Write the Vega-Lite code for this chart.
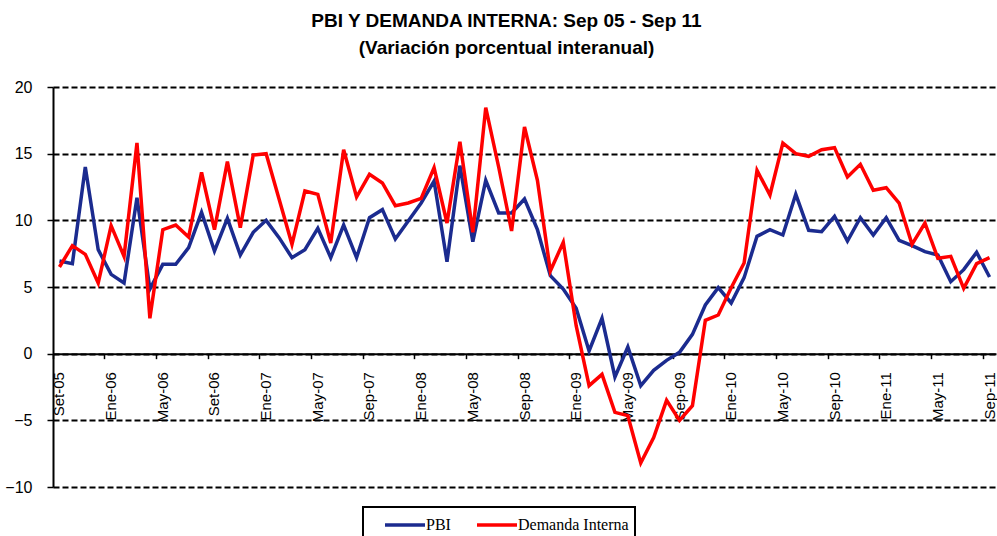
{
  "$schema": "https://vega.github.io/schema/vega-lite/v6.json",
  "width": 943,
  "height": 400,
  "autosize": {"type": "none"},
  "padding": {"left": 53, "top": 87, "right": 1, "bottom": 49},
  "background": "white",
  "title": {
    "text": "PBI Y DEMANDA INTERNA: Sep 05 - Sep 11",
    "subtitle": "(Variación porcentual interanual)",
    "font": "Liberation Sans",
    "fontSize": 19,
    "fontWeight": "bold",
    "color": "black",
    "subtitleFont": "Liberation Sans",
    "subtitleFontSize": 19,
    "subtitleFontWeight": "bold",
    "subtitleColor": "black",
    "subtitlePadding": 8,
    "anchor": "middle",
    "frame": "group",
    "dx": -18,
    "offset": 21
  },
  "data": {
    "values": [
      {"mes": "Set-05", "PBI": 6.95, "Demanda Interna": 6.5},
      {"mes": "Oct-05", "PBI": 6.75, "Demanda Interna": 8.1},
      {"mes": "Nov-05", "PBI": 14.0, "Demanda Interna": 7.45},
      {"mes": "Dic-05", "PBI": 7.8, "Demanda Interna": 5.3},
      {"mes": "Ene-06", "PBI": 5.95, "Demanda Interna": 9.6},
      {"mes": "Feb-06", "PBI": 5.3, "Demanda Interna": 7.3},
      {"mes": "Mar-06", "PBI": 11.7, "Demanda Interna": 15.8},
      {"mes": "Abr-06", "PBI": 4.85, "Demanda Interna": 2.65},
      {"mes": "May-06", "PBI": 6.7, "Demanda Interna": 9.3},
      {"mes": "Jun-06", "PBI": 6.7, "Demanda Interna": 9.65},
      {"mes": "Jul-06", "PBI": 7.95, "Demanda Interna": 8.75},
      {"mes": "Ago-06", "PBI": 10.6, "Demanda Interna": 13.6},
      {"mes": "Set-06", "PBI": 7.7, "Demanda Interna": 9.3},
      {"mes": "Oct-06", "PBI": 10.15, "Demanda Interna": 14.4},
      {"mes": "Nov-06", "PBI": 7.4, "Demanda Interna": 9.45},
      {"mes": "Dic-06", "PBI": 9.1, "Demanda Interna": 14.9},
      {"mes": "Ene-07", "PBI": 10.0, "Demanda Interna": 15.0},
      {"mes": "Feb-07", "PBI": 8.7, "Demanda Interna": 11.6},
      {"mes": "Mar-07", "PBI": 7.2, "Demanda Interna": 8.2},
      {"mes": "Abr-07", "PBI": 7.8, "Demanda Interna": 12.2},
      {"mes": "May-07", "PBI": 9.4, "Demanda Interna": 11.95},
      {"mes": "Jun-07", "PBI": 7.2, "Demanda Interna": 8.3},
      {"mes": "Jul-07", "PBI": 9.65, "Demanda Interna": 15.3},
      {"mes": "Ago-07", "PBI": 7.2, "Demanda Interna": 11.75},
      {"mes": "Sep-07", "PBI": 10.2, "Demanda Interna": 13.45},
      {"mes": "Oct-07", "PBI": 10.8, "Demanda Interna": 12.8},
      {"mes": "Nov-07", "PBI": 8.6, "Demanda Interna": 11.1},
      {"mes": "Dic-07", "PBI": 9.95, "Demanda Interna": 11.3},
      {"mes": "Ene-08", "PBI": 11.3, "Demanda Interna": 11.65},
      {"mes": "Feb-08", "PBI": 12.95, "Demanda Interna": 13.95},
      {"mes": "Mar-08", "PBI": 6.9, "Demanda Interna": 9.8},
      {"mes": "Abr-08", "PBI": 14.1, "Demanda Interna": 15.9},
      {"mes": "May-08", "PBI": 8.4, "Demanda Interna": 9.1},
      {"mes": "Jun-08", "PBI": 13.0, "Demanda Interna": 18.45},
      {"mes": "Jul-08", "PBI": 10.55, "Demanda Interna": 14.0},
      {"mes": "Ago-08", "PBI": 10.55, "Demanda Interna": 9.2},
      {"mes": "Sep-08", "PBI": 11.6, "Demanda Interna": 17.0},
      {"mes": "Oct-08", "PBI": 9.3, "Demanda Interna": 13.0},
      {"mes": "Nov-08", "PBI": 5.85, "Demanda Interna": 6.2},
      {"mes": "Dic-08", "PBI": 4.85, "Demanda Interna": 8.35},
      {"mes": "Ene-09", "PBI": 3.4, "Demanda Interna": 2.1},
      {"mes": "Feb-09", "PBI": 0.2, "Demanda Interna": -2.4},
      {"mes": "Mar-09", "PBI": 2.65, "Demanda Interna": -1.55},
      {"mes": "Abr-09", "PBI": -1.75, "Demanda Interna": -4.4},
      {"mes": "May-09", "PBI": 0.5, "Demanda Interna": -4.65},
      {"mes": "Jun-09", "PBI": -2.4, "Demanda Interna": -8.2},
      {"mes": "Jul-09", "PBI": -1.25, "Demanda Interna": -6.3},
      {"mes": "Ago-09", "PBI": -0.5, "Demanda Interna": -3.5},
      {"mes": "Sep-09", "PBI": 0.1, "Demanda Interna": -5.0},
      {"mes": "Oct-09", "PBI": 1.45, "Demanda Interna": -3.9},
      {"mes": "Nov-09", "PBI": 3.65, "Demanda Interna": 2.5},
      {"mes": "Dic-09", "PBI": 4.95, "Demanda Interna": 2.9},
      {"mes": "Ene-10", "PBI": 3.8, "Demanda Interna": 4.95},
      {"mes": "Feb-10", "PBI": 5.7, "Demanda Interna": 6.8},
      {"mes": "Mar-10", "PBI": 8.8, "Demanda Interna": 13.75},
      {"mes": "Abr-10", "PBI": 9.3, "Demanda Interna": 11.9},
      {"mes": "May-10", "PBI": 8.9, "Demanda Interna": 15.8},
      {"mes": "Jun-10", "PBI": 11.95, "Demanda Interna": 15.0},
      {"mes": "Jul-10", "PBI": 9.25, "Demanda Interna": 14.8},
      {"mes": "Ago-10", "PBI": 9.15, "Demanda Interna": 15.3},
      {"mes": "Sep-10", "PBI": 10.3, "Demanda Interna": 15.45},
      {"mes": "Oct-10", "PBI": 8.45, "Demanda Interna": 13.25},
      {"mes": "Nov-10", "PBI": 10.2, "Demanda Interna": 14.2},
      {"mes": "Dic-10", "PBI": 8.9, "Demanda Interna": 12.25},
      {"mes": "Ene-11", "PBI": 10.2, "Demanda Interna": 12.45},
      {"mes": "Feb-11", "PBI": 8.5, "Demanda Interna": 11.3},
      {"mes": "Mar-11", "PBI": 8.1, "Demanda Interna": 8.2},
      {"mes": "Abr-11", "PBI": 7.65, "Demanda Interna": 9.8},
      {"mes": "May-11", "PBI": 7.4, "Demanda Interna": 7.15},
      {"mes": "Jun-11", "PBI": 5.4, "Demanda Interna": 7.3},
      {"mes": "Jul-11", "PBI": 6.3, "Demanda Interna": 4.9},
      {"mes": "Ago-11", "PBI": 7.6, "Demanda Interna": 6.75},
      {"mes": "Sep-11", "PBI": 5.75, "Demanda Interna": 7.2}
    ]
  },
  "transform": [{"fold": ["PBI", "Demanda Interna"], "as": ["serie", "valor"]}],
  "mark": {"type": "line", "strokeWidth": 3.5},
  "encoding": {
    "x": {
      "field": "mes",
      "type": "ordinal",
      "sort": null,
      "scale": {"type": "band", "paddingInner": 0, "paddingOuter": 0},
      "axis": {
        "values": ["Set-05", "Ene-06", "May-06", "Set-06", "Ene-07", "May-07", "Sep-07", "Ene-08", "May-08", "Sep-08", "Ene-09", "May-09", "Sep-09", "Ene-10", "May-10", "Sep-10", "Ene-11", "May-11", "Sep-11"],
        "title": null,
        "bandPosition": 0,
        "labelAngle": 270,
        "labelAlign": "right",
        "labelBaseline": "middle",
        "labelOffset": 0,
        "labelPadding": 13,
        "labelFont": "Liberation Sans",
        "labelFontSize": 15,
        "labelColor": "black",
        "labelOverlap": false,
        "labelFlush": false,
        "tickColor": "black",
        "tickSize": 5,
        "tickWidth": 1.5,
        "domainColor": "black",
        "domainWidth": 2,
        "grid": false,
        "offset": -133.33
      }
    },
    "y": {
      "field": "valor",
      "type": "quantitative",
      "scale": {"domain": [-10, 20], "nice": false, "zero": false},
      "axis": {
        "values": [-10, -5, 0, 5, 10, 15, 20],
        "title": null,
        "labelFont": "Liberation Sans",
        "labelFontSize": 16,
        "labelColor": "black",
        "labelPadding": 15,
        "tickSize": 6,
        "tickColor": "black",
        "tickWidth": 1.5,
        "domainColor": "black",
        "domainWidth": 2,
        "grid": true,
        "gridColor": "black",
        "gridDash": [6, 3],
        "gridWidth": 1.8,
        "gridOpacity": 1
      }
    },
    "color": {
      "field": "serie",
      "type": "nominal",
      "scale": {"domain": ["PBI", "Demanda Interna"], "range": ["#1b2b8f", "#ff0000"]},
      "legend": {
        "title": null,
        "orient": "none",
        "legendX": 310,
        "legendY": 420,
        "direction": "horizontal",
        "symbolType": "M-2,0H2",
        "symbolSize": 400,
        "symbolStrokeWidth": 3.5,
        "labelFont": "Liberation Serif",
        "labelFontSize": 16,
        "labelColor": "black",
        "labelOffset": 9,
        "columnPadding": 10,
        "padding": 6,
        "symbolOffset": 24,
        "strokeColor": "black",
        "fillColor": "white",
        "encode": {"legend": {"update": {"strokeWidth": {"value": 2}}}}
      }
    }
  },
  "config": {"view": {"stroke": null}}
}
